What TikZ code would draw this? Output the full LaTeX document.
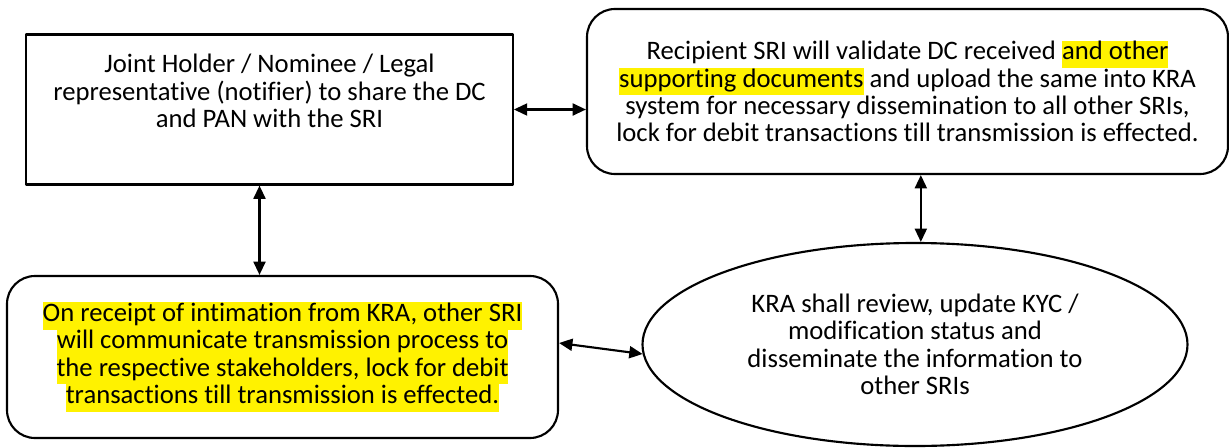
\documentclass[tikz,border=0pt]{standalone}
\usepackage{fontspec}
\setmainfont{Carlito}[RawFeature={-liga;-clig;-calt}]
\usetikzlibrary{arrows.meta,shapes.geometric}
\newcommand{\hl}[1]{{\setlength{\fboxsep}{0pt}\colorbox{yellow}{\strut#1}}}
\begin{document}
\begin{tikzpicture}[x=0.75pt,y=-0.75pt,>={Stealth[length=10pt,width=9pt,inset=0pt]},line cap=round,line join=round,line width=1.6pt,
	every node/.style={font=\fontsize{20}{20.5}\selectfont,align=center,inner sep=0pt},
	sqbox/.style={draw,rectangle,minimum width=365pt,minimum height=112.5pt},
	rdbox/.style={draw,rectangle,rounded corners=21pt},
	oval/.style={draw,ellipse}]
	\useasboundingbox (0,0) rectangle (1229,447);
	\node[sqbox,text depth=28pt] (holder) at (269.5,109.5) {Joint Holder / Nominee / Legal\\representative (notifier) to share the DC\\and PAN with the SRI};
	\node[rdbox,minimum width=480.75pt,minimum height=123.75pt] (recipient) at (907.5,91.5) {Recipient SRI will validate DC received \hl{and other}\\\hl{supporting documents} and upload the same into KRA\\system for necessary dissemination to all other SRIs,\\lock for debit transactions till transmission is effected.};
	\node[rdbox,minimum width=413.25pt,minimum height=121.5pt] (other) at (282.5,357) {\hl{On receipt of intimation from KRA, other SRI}\\\hl{will communicate transmission process to}\\\hl{the respective stakeholders, lock for debit}\\\hl{transactions till transmission is effected.}};
	\node[oval,minimum width=408.75pt,minimum height=152.25pt] (kra) at (915,344.5) {KRA shall review, update KYC /\\modification status and\\disseminate the information to\\other SRIs};
	\draw[<->] (holder.east) -- (recipient.west |- holder.east);
	\draw[<->] ([xshift=-7.5pt]holder.south) -- ([xshift=-7.5pt]holder.south |- other.north);
	\draw[<->] ([xshift=10pt]recipient.south) -- ([xshift=10pt]recipient.south |- kra.north);
	\draw[<->] ([yshift=10.5pt]other.east) -- (kra.182);
\end{tikzpicture}
\end{document}
